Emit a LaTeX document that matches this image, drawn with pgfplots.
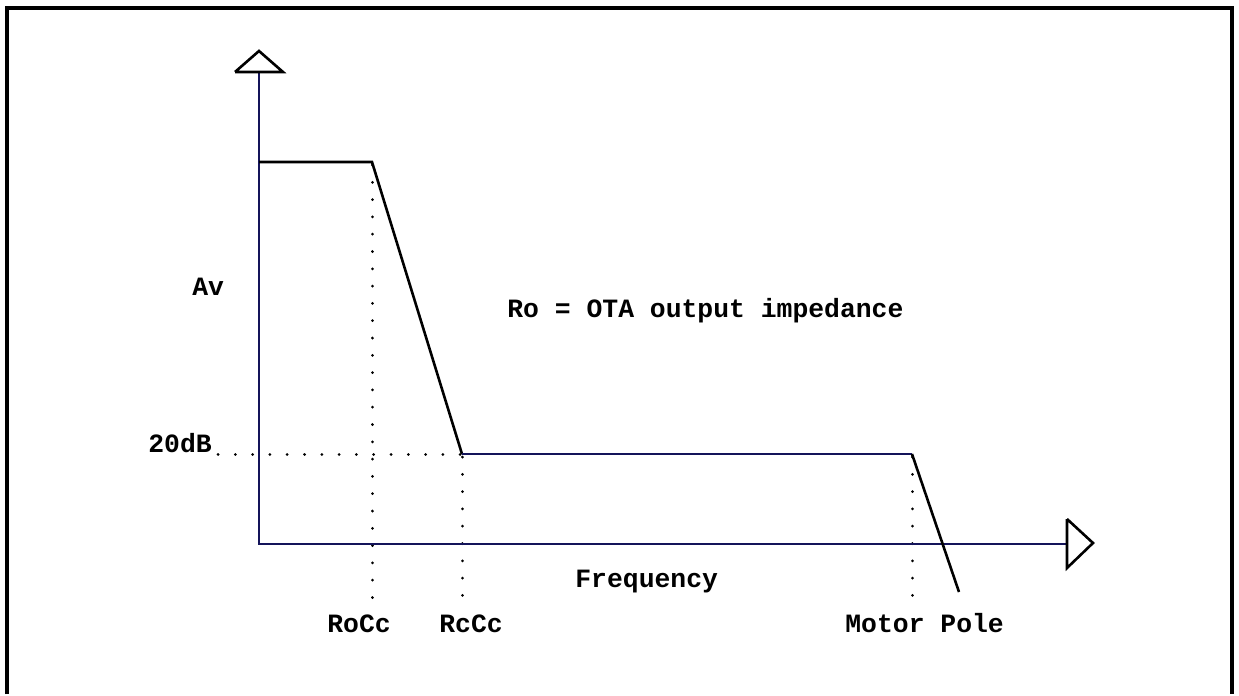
\documentclass[border=0pt]{standalone}
\usepackage{pgfplots}
\pgfplotsset{compat=1.18}
\usepackage{fontspec}
\setmainfont{Liberation Mono}
\definecolor{navy}{RGB}{20,20,90}
\tikzset{lbl/.style={anchor=base west, inner sep=0pt, font=\fontsize{13.2}{15}\selectfont\bfseries}}
\begin{document}
\begin{tikzpicture}
\begin{axis}[scale only axis, width=619.5pt, height=347pt,
  xmin=0, xmax=1239, ymin=0, ymax=694, y dir=reverse,
  hide axis, clip=false]
\path (rel axis cs:0,0) rectangle (rel axis cs:1,1);
% frame
\addplot[black, line width=1.6pt] coordinates {(7,694) (7,8) (1232,8) (1232,694)};
% dotted guides
\addplot[black, line width=1.5pt, line cap=round, dash pattern=on 0.01pt off 8.64pt] coordinates {(372,165) (372,612)};
\addplot[black, line width=1.5pt, line cap=round, dash pattern=on 0.01pt off 8.64pt] coordinates {(462,457) (462,610)};
\addplot[black, line width=1.5pt, line cap=round, dash pattern=on 0.01pt off 8.64pt] coordinates {(912,457) (912,610)};
\addplot[black, line width=1.5pt, line cap=round, dash pattern=on 0.01pt off 8.64pt] coordinates {(218,454) (462,454)};
% axes
\addplot[navy, line width=1.4pt] coordinates {(259,72) (259,544) (1067,544)};
% arrow heads
\addplot[black, line width=1.3pt] coordinates {(235,72) (259,51) (283,72) (235,72)};
\addplot[black, line width=1.3pt] coordinates {(1067,519) (1093,543) (1067,568) (1067,519)};
% response
\addplot[black, line width=1.3pt] coordinates {(259,162) (372,162) (462,454)};
\addplot[navy, line width=1.4pt] coordinates {(462,454) (912,454)};
\addplot[black, line width=1.3pt] coordinates {(912,454) (959,592)};
% labels
\node[lbl] at (axis cs:192,296) {Av};
\node[lbl] at (axis cs:507,318) {Ro = OTA output impedance};
\node[lbl] at (axis cs:148,452) {20dB};
\node[lbl] at (axis cs:575,587) {Frequency};
\node[lbl] at (axis cs:327,632) {RoCc};
\node[lbl] at (axis cs:439,632) {RcCc};
\node[lbl] at (axis cs:845,632) {Motor Pole};
\end{axis}
\end{tikzpicture}
\end{document}
